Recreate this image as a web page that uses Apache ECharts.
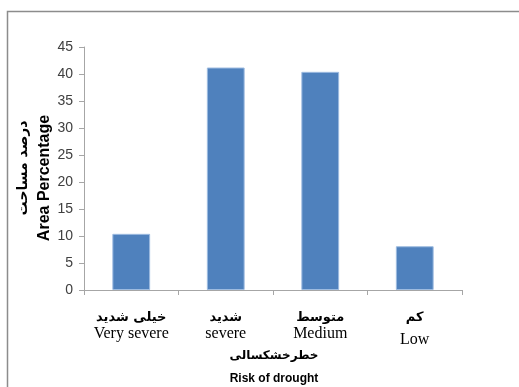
<!DOCTYPE html>
<html>
<head>
<meta charset="utf-8">
<script src="https://cdn.jsdelivr.net/npm/echarts@6/dist/echarts.min.js"></script>
<style>
  html, body { margin: 0; padding: 0; background: #fff; }
  #chart { width: 519px; height: 387px; }
</style>
</head>
<body>
<div id="chart"></div>
<script>
// categories (Persian / English)
const catFa = ['خیلی شدید', 'شدید', 'متوسط', 'کم']
const catEn = ['Very severe', 'severe', 'Medium', 'Low']
// area percentage per risk class
const areaPct = [10.4, 41.2, 40.4, 8.1]
const yTicks = { min: 0, max: 45, interval: 5 }

const chart = echarts.init(document.getElementById('chart'))

chart.setOption({
  animation: false,
  grid: {
    left: 84,
    right: 57,
    top: 47,
    bottom: 97
  },
  graphic: [
    {
      type: 'rect',
      shape: { x: 7.5, y: 11.5, width: 560, height: 420 },
      style: { fill: 'none', stroke: '#8c8c8c', lineWidth: 1.5 },
      silent: true
    },
    {
      type: 'text',
      x: 45,
      y: 178,
      rotation: Math.PI / 2,
      style: {
        text: 'Area Percentage',
        font: 'bold 16px "Liberation Sans", Arial, sans-serif',
        fill: '#000',
        align: 'center',
        verticalAlign: 'middle'
      }
    },
    {
      type: 'text',
      x: 23,
      y: 168,
      rotation: Math.PI / 2,
      style: {
        text: 'درصد مساحت',
        font: 'bold 14px "DejaVu Sans", sans-serif',
        fill: '#000',
        align: 'center',
        verticalAlign: 'middle'
      }
    },
    {
      type: 'text',
      x: 274,
      y: 356,
      style: {
        text: 'خطرخشکسالی',
        font: 'bold 12px "DejaVu Sans", sans-serif',
        fill: '#000',
        align: 'center',
        verticalAlign: 'middle'
      }
    },
    {
      type: 'text',
      x: 274,
      y: 379,
      style: {
        text: 'Risk of drought',
        font: 'bold 12px "Liberation Sans", Arial, sans-serif',
        fill: '#000',
        align: 'center',
        verticalAlign: 'middle'
      }
    }
  ],
  xAxis: {
    type: 'category',
    data: catEn,
    axisLine: { lineStyle: { color: '#a6a6a6', width: 1 } },
    axisTick: { show: true, length: 5, alignWithLabel: false, lineStyle: { color: '#a6a6a6' } },
    axisLabel: {
      margin: 20,
      interval: 0,
      formatter: function (v, i) {
        const en = i === 3 ? 'enLow' : 'en'
        return '{fa|' + catFa[i] + '}\n{' + en + '|' + v + '}'
      },
      rich: {
        fa: {
          fontFamily: '"DejaVu Sans", sans-serif',
          fontWeight: 'bold',
          fontSize: 13,
          color: '#000',
          lineHeight: 16
        },
        en: {
          fontFamily: '"Liberation Serif", "Times New Roman", serif',
          fontSize: 16,
          color: '#000',
          lineHeight: 16
        },
        enLow: {
          fontFamily: '"Liberation Serif", "Times New Roman", serif',
          fontSize: 16,
          color: '#000',
          lineHeight: 28
        }
      }
    }
  },
  yAxis: {
    type: 'value',
    min: yTicks.min,
    max: yTicks.max,
    interval: yTicks.interval,
    axisLine: { show: true, lineStyle: { color: '#a6a6a6', width: 1 } },
    axisTick: { show: true, length: 5, lineStyle: { color: '#a6a6a6' } },
    splitLine: { show: false },
    axisLabel: {
      margin: 11,
      fontFamily: '"Liberation Sans", Arial, sans-serif',
      fontSize: 14,
      color: '#404040'
    }
  },
  series: [
    {
      type: 'bar',
      data: areaPct,
      barWidth: '40%',
      itemStyle: {
        color: '#4f81bd',
        borderColor: '#9dbbe0',
        borderWidth: 1
      }
    }
  ]
})
</script>
</body>
</html>
